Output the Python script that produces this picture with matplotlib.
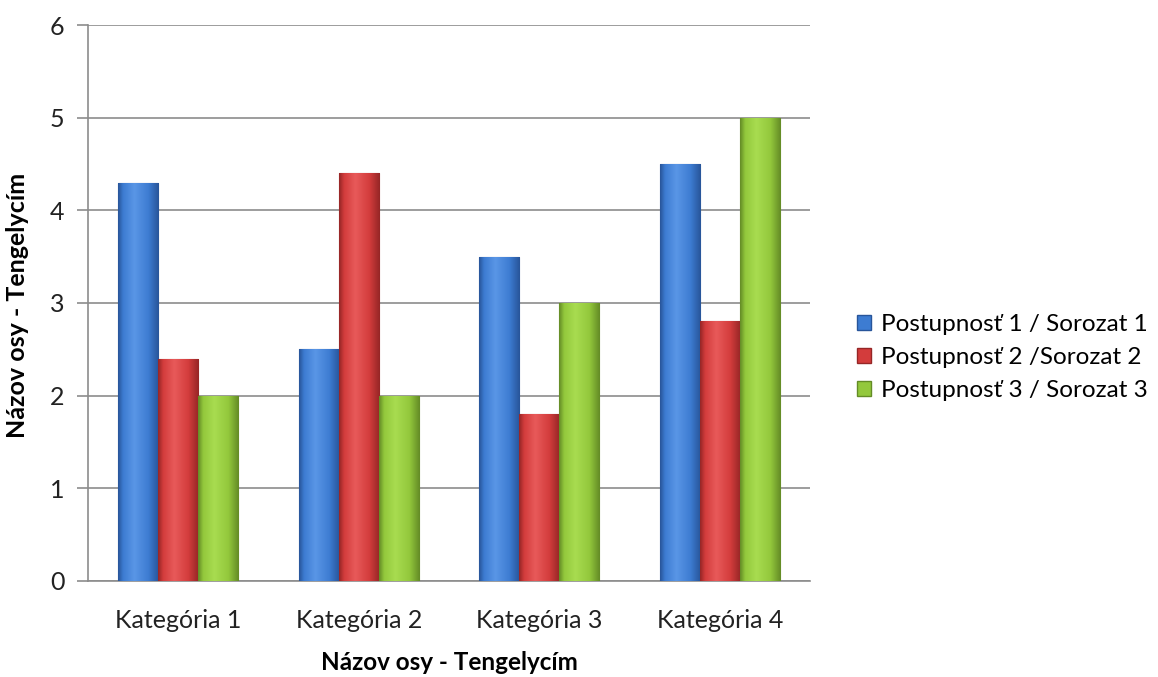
import matplotlib
matplotlib.use("Agg")
import matplotlib.pyplot as plt
import numpy as np
from matplotlib.patches import Patch
from matplotlib.colors import LinearSegmentedColormap

categories = ["Kategória 1", "Kategória 2", "Kategória 3", "Kategória 4"]
series_names = ["Postupnosť 1 / Sorozat 1", "Postupnosť 2 /Sorozat 2", "Postupnosť 3 / Sorozat 3"]
s1 = [4.3, 2.5, 3.5, 4.5]
s2 = [2.4, 4.4, 1.8, 2.8]
s3 = [2.0, 2.0, 3.0, 5.0]
colors = ["#3d7cd2", "#d33c3c", "#93c83c"]
lights = ["#5a96e6", "#e85a5a", "#a8dc50"]
darks = ["#28559a", "#962626", "#648c26"]

plt.rcParams['font.family'] = ['Lato', 'DejaVu Sans']

fig = plt.figure(figsize=(11.58, 6.77), dpi=100)
ax = fig.add_axes([0.076, 0.142, 0.6235, 0.821])

x = np.arange(len(categories))
w = 0.222
ax.set_xlim(-0.5, 3.5)
ax.set_ylim(0, 6)

grad = np.linspace(0, 1, 64).reshape(1, -1)
for i, vals in enumerate([s1, s2, s3]):
    bars = ax.bar(x + (i - 1) * w, vals, width=w, color=colors[i], edgecolor=darks[i],
                  linewidth=0.8, zorder=3, label=series_names[i])
    cmap = LinearSegmentedColormap.from_list(
        "g%d" % i, [(0, darks[i]), (0.12, colors[i]), (0.4, lights[i]),
                    (0.75, colors[i]), (1.0, darks[i])])
    for b in bars:
        bx, by = b.get_x(), b.get_y()
        bw, bh = b.get_width(), b.get_height()
        im = ax.imshow(grad, cmap=cmap, extent=[bx, bx + bw, by, by + bh],
                       aspect='auto', zorder=3.5, interpolation='bicubic')
        im.set_clip_path(b)

ax.set_xlim(-0.5, 3.5)
ax.set_ylim(0, 6)
ax.set_yticks(range(0, 7))
ax.yaxis.grid(True, color="#8c8c8c", linewidth=1.2, zorder=0)
ax.set_axisbelow(True)
ax.set_xticks(x)
ax.set_xticklabels(categories, fontsize=18, color="#222222")
ax.tick_params(axis='x', length=0, pad=20)
ax.tick_params(axis='y', length=8, width=1.2, color="#8c8c8c", labelsize=18,
               labelcolor="#222222", pad=9)
for sp in ["top", "right"]:
    ax.spines[sp].set_visible(False)
for sp in ["left", "bottom"]:
    ax.spines[sp].set_color("#8c8c8c")
    ax.spines[sp].set_linewidth(1.2)

ax.set_ylabel("Názov osy - Tengelycím", fontsize=18, fontweight='bold')
ax.yaxis.set_label_coords(-0.082, 0.495)
ax.set_xlabel("Názov osy - Tengelycím", fontsize=17.5, fontweight='bold')
ax.xaxis.set_label_coords(0.5, -0.127)

handles = [Patch(facecolor=c, edgecolor=e) for c, e in zip(colors, darks)]
leg = fig.legend(handles, series_names, loc='center left', bbox_to_anchor=(0.73, 0.472),
                 frameon=False, fontsize=17.5, handlelength=0.55, handleheight=0.55,
                 handletextpad=0.4, labelspacing=0.5, borderpad=0)

fig.savefig("out.png", dpi=100)
